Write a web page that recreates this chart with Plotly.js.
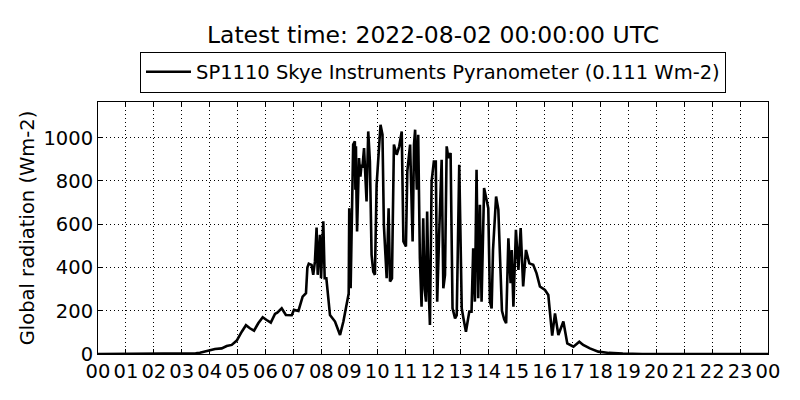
<!DOCTYPE html>
<html>
<head>
<meta charset="utf-8">
<script src="https://cdn.plot.ly/plotly-3.0.1.min.js"></script>
<style>html,body{margin:0;padding:0;background:#fff;}#chart{width:800px;height:400px;}</style>
</head>
<body>
<div id="chart"></div>
<script>
// Time of day (hours UTC) and global radiation (Wm-2)
const hours = [0, 3.4, 3.5, 3.65, 3.95, 4.19, 4.43, 4.61, 4.79, 4.97, 5.15, 5.3, 5.44, 5.59, 5.74, 5.9, 6.04, 6.19, 6.34, 6.42, 6.58, 6.73, 6.94, 7.02, 7.18, 7.33, 7.45, 7.5, 7.55, 7.65, 7.71, 7.77, 7.83, 7.87, 7.95, 7.99, 8.07, 8.12, 8.18, 8.31, 8.49, 8.67, 8.79, 8.91, 8.98, 9.0, 9.05, 9.14, 9.2, 9.22, 9.24, 9.26, 9.28, 9.35, 9.4, 9.44, 9.47, 9.53, 9.62, 9.68, 9.74, 9.8, 9.86, 9.92, 9.98, 10.12, 10.19, 10.24, 10.34, 10.41, 10.46, 10.53, 10.6, 10.7, 10.79, 10.88, 10.94, 11.03, 11.08, 11.18, 11.27, 11.32, 11.36, 11.42, 11.47, 11.53, 11.59, 11.65, 11.7, 11.75, 11.79, 11.84, 11.89, 11.95, 12.03, 12.1, 12.15, 12.22, 12.31, 12.37, 12.43, 12.49, 12.55, 12.63, 12.7, 12.79, 12.85, 12.94, 13.03, 13.09, 13.18, 13.3, 13.38, 13.44, 13.5, 13.56, 13.62, 13.68, 13.74, 13.83, 13.9, 13.98, 14.04, 14.1, 14.15, 14.26, 14.34, 14.42, 14.47, 14.55, 14.62, 14.7, 14.78, 14.82, 14.88, 14.97, 15.06, 15.14, 15.23, 15.33, 15.45, 15.59, 15.71, 15.83, 16.01, 16.13, 16.22, 16.27, 16.37, 16.49, 16.67, 16.81, 17.03, 17.24, 17.38, 17.62, 17.92, 18.3, 18.8, 19.5, 24];
const radiation = [0, 0, 3, 6, 15, 23, 26, 37, 42, 62, 103, 133, 119, 108, 142, 170, 157, 145, 185, 191, 211, 180, 179, 204, 199, 265, 281, 400, 417, 412, 366, 427, 585, 366, 551, 350, 613, 350, 350, 180, 150, 88, 150, 242, 280, 674, 304, 968, 983, 760, 960, 721, 566, 906, 820, 875, 860, 952, 705, 1029, 890, 458, 381, 366, 782, 1060, 1014, 597, 350, 674, 335, 350, 968, 921, 960, 1029, 520, 497, 844, 968, 520, 968, 1037, 760, 1014, 443, 219, 628, 300, 242, 659, 320, 134, 798, 890, 890, 242, 551, 898, 304, 366, 960, 906, 929, 211, 165, 180, 875, 211, 165, 103, 196, 196, 489, 242, 852, 258, 690, 242, 767, 721, 674, 242, 211, 481, 728, 667, 404, 200, 160, 142, 535, 327, 481, 219, 574, 389, 582, 312, 481, 419, 412, 373, 312, 296, 273, 157, 85, 188, 88, 150, 49, 34, 57, 42, 26, 11, 5, 2, 0, 0];
const tickHours = [0,1,2,3,4,5,6,7,8,9,10,11,12,13,14,15,16,17,18,19,20,21,22,23,24];
const tickLabels = ["00","01","02","03","04","05","06","07","08","09","10","11","12","13","14","15","16","17","18","19","20","21","22","23","00"];
const yTicks = [0, 200, 400, 600, 800, 1000];

const FONT = "DejaVu Sans, sans-serif";
const trace = {
  x: hours, y: radiation, type: 'scatter', mode: 'lines',
  name: 'SP1110 Skye Instruments Pyranometer (0.111 Wm-2)',
  line: {color: 'black', width: 2.6},
  showlegend: true
};
const axisCommon = {
  showline: true, linecolor: 'black', linewidth: 1, mirror: 'ticks',
  ticks: 'inside', ticklen: 5, tickcolor: 'black', tickwidth: 1,
  showgrid: true, gridcolor: 'black', gridwidth: 1, griddash: '1px,3px',
  zeroline: false, tickfont: {family: FONT, size: 19.5, color: 'black'}
};
const layout = {
  width: 800, height: 400,
  margin: {l: 98, r: 32, t: 102, b: 46},
  paper_bgcolor: 'white', plot_bgcolor: 'white',
  font: {family: FONT, color: 'black'},
  title: {text: 'Latest time: 2022-08-02 00:00:00 UTC', font: {family: FONT, size: 23.5, color: 'black'},
          x: 0.5, xref: 'paper', xanchor: 'center', y: 1 - 35/400, yref: 'container', yanchor: 'middle'},
  xaxis: Object.assign({}, axisCommon, {range: [0, 24], tickmode: 'array', tickvals: tickHours, ticktext: tickLabels}),
  yaxis: Object.assign({}, axisCommon, {range: [0, 1165], tickmode: 'array', tickvals: yTicks,
          title: {text: 'Global radiation (Wm-2)', font: {family: FONT, size: 19.5, color: 'black'}, standoff: 3}}),
  legend: {x: 0.5, xanchor: 'center', y: 1.2, yanchor: 'top', bordercolor: 'black', borderwidth: 1,
           itemwidth: 45, bgcolor: 'white', font: {family: FONT, size: 19.5, color: 'black'}}
};
Plotly.newPlot('chart', [trace], layout, {staticPlot: true, displayModeBar: false});
</script>
</body>
</html>
